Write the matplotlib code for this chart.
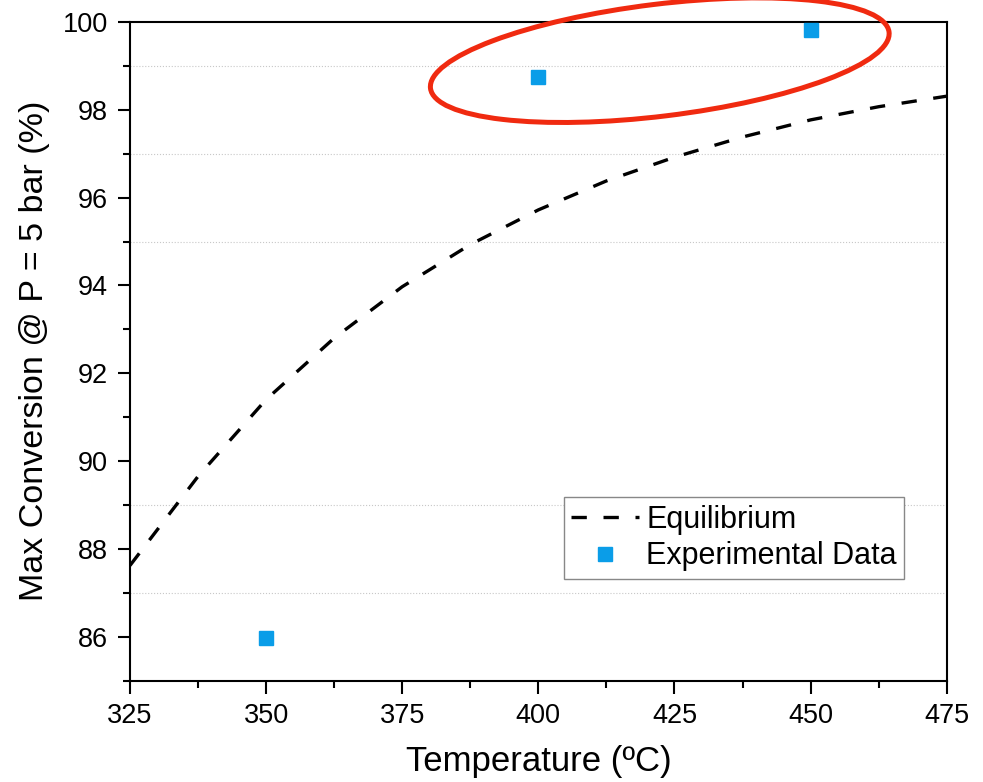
import numpy as np
import matplotlib
matplotlib.use("Agg")
import matplotlib.pyplot as plt
from matplotlib.patches import Ellipse
from matplotlib.transforms import IdentityTransform
from matplotlib.ticker import MultipleLocator

# equilibrium conversion at 5 bar
eq_temp = [325, 337.5, 350, 362.5, 375, 387.5, 400, 412.5, 425, 437.5, 450, 462.5, 475]
eq_conv = [87.62, 89.65, 91.40, 92.80, 93.97, 94.93, 95.72, 96.38, 96.92, 97.38, 97.77, 98.07, 98.31]

# measured maximum conversion
exp_temp = [350, 400, 450]
exp_conv = [85.98, 98.75, 99.82]

# faint reference lines
grid_y = [87, 89, 95, 97, 99]

plt.rcParams['font.family'] = ['Liberation Sans', 'DejaVu Sans']

fig = plt.figure(figsize=(9.83, 7.82), dpi=100)
ax = fig.add_axes([0.1322, 0.1297, 0.8309, 0.8422])

for gy in grid_y:
    ax.axhline(gy, color='#c8c8c8', ls=':', lw=0.8, zorder=1)

line, = ax.plot(eq_temp, eq_conv, color='black', lw=2.4, ls='--', label='Equilibrium', zorder=3)
line.set_dashes((4.6, 5.0))
ax.plot(exp_temp, exp_conv, ls='none', marker='s', ms=10, color='#0A9DE8',
        mec='#0A9DE8', label='Experimental Data', zorder=4, clip_on=False)

ax.set_xlim(325, 475)
ax.set_ylim(85, 100)
ax.xaxis.set_major_locator(MultipleLocator(25))
ax.xaxis.set_minor_locator(MultipleLocator(12.5))
ax.yaxis.set_minor_locator(MultipleLocator(1))
ax.set_yticks([86, 88, 90, 92, 94, 96, 98, 100])

for s in ax.spines.values():
    s.set_linewidth(1.5)
ax.tick_params(which='major', direction='out', length=9, width=1.5, labelsize=19.5, pad=7)
ax.tick_params(which='minor', direction='out', length=5, width=1.5)
ax.tick_params(top=False, right=False)

ax.set_xlabel('Temperature (ºC)', fontsize=25, labelpad=12)
ax.set_ylabel('Max Conversion @ P = 5 bar (%)', fontsize=24.5, labelpad=9)

leg = ax.legend(loc='upper left', bbox_to_anchor=(0.531, 0.278), fontsize=22,
                frameon=True, fancybox=False, framealpha=1, edgecolor='#888888',
                borderpad=0.25, handlelength=2.2, handletextpad=0.25, labelspacing=0.2,
                borderaxespad=0, handleheight=0.7)
leg.get_frame().set_linewidth(1.0)

# highlight ring around the high-temperature points
fig.canvas.draw()
cx, cy = ax.transData.transform((422.3, 99.13))
ring = Ellipse((cx, cy), width=462, height=112, angle=7, fill=False,
               edgecolor='#F02A10', lw=3.6, transform=IdentityTransform(),
               clip_on=False, zorder=6)
fig.patches.append(ring)
ring.set_figure(fig)

fig.savefig('out.png', dpi=100)
